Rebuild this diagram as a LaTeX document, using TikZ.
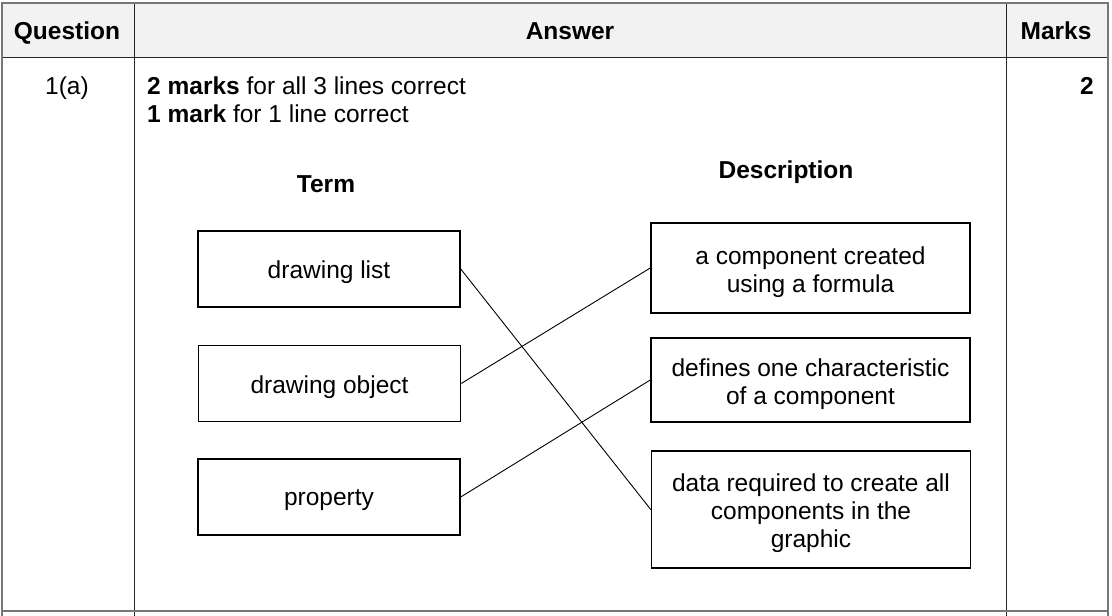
\documentclass[tikz,border=0pt]{standalone}
\usepackage{fontspec}
\setmainfont{Liberation Sans}
\definecolor{hdr}{HTML}{F2F2F2}
\definecolor{rule}{HTML}{777777}
\begin{document}
\begin{tikzpicture}[x=1pt,y=-1pt,
  every node/.style={font=\fontsize{24.5}{28}\selectfont},
  box/.style={draw, line width=1.5pt, inner sep=0pt},
  lbox/.style={box, minimum width=262pt, minimum height=76pt},
  rbox/.style={box, minimum width=319pt},
  txt/.style={inner sep=0pt, align=center},
  conn/.style={line width=0.9pt},
  hd/.style={font=\fontsize{24.5}{28}\selectfont\bfseries, anchor=base}]
\useasboundingbox (0,0) rectangle (1112,616);
% table
\fill[hdr] (2,3) rectangle (1108,57.5);
\draw[line width=0.9pt, black!85] (2,57.5) -- (1108,57.5);
\draw[line width=0.9pt, black!85] (134,3) -- (134,616);
\draw[line width=0.9pt, black!85] (1006,3) -- (1006,616);
\draw[line width=1.8pt, rule] (2,616) -- (2,3) -- (1108,3) -- (1108,616);
\draw[line width=1.8pt, rule] (2,611) -- (1108,611);
% header texts
\node[hd] (hq) at (67,39) {Question};
\node[hd] (ha) at (570,39) {Answer};
\node[hd] (hm) at (1056,39) {Marks};
\node[anchor=base] (q) at (67,94) {1(a)};
\node[anchor=base west, inner sep=0pt] (m1) at (147,94) {\textbf{2 marks} for all 3 lines correct};
\node[anchor=base west, inner sep=0pt] (m2) at (147,122) {\textbf{1 mark} for 1 line correct};
\node[anchor=base east, inner sep=0pt, font=\fontsize{24.5}{28}\selectfont\bfseries] (mk) at (1094,94) {2};
\node[hd] (term) at (326,192) {Term};
\node[hd] (desc) at (786,178) {Description};
% boxes
\node[lbox] (dl) at (329,269) {};
\node[lbox] (dobj) at (329.5,383.5) {};
\node[lbox] (prop) at (329,497) {};
\node[rbox, minimum height=90pt] (comp) at (810.5,268) {};
\node[rbox, minimum height=84pt] (defn) at (810.5,380) {};
\node[rbox, minimum height=117pt] (data) at (811,509.5) {};
% box texts
\node[txt] (dlt) at ([yshift=-3.5pt]dl.center) {drawing list};
\node[txt] (dobjt) at ([yshift=-3.5pt]dobj.center) {drawing object};
\node[txt] (propt) at ([yshift=-3.5pt]prop.center) {property};
\node[txt] (compt) at ([yshift=-4pt]comp.center) {a component created\\using a formula};
\node[txt] (defnt) at ([yshift=-4pt]defn.center) {defines one characteristic\\of a component};
\node[txt] (datat) at ([yshift=-4pt]data.center) {data required to create all\\components in the\\graphic};
% connectors
\draw[conn] (dl.east) -- (data.west);
\draw[conn] (dobj.east) -- (comp.west);
\draw[conn] (prop.east) -- (defn.west);
\end{tikzpicture}
\end{document}
